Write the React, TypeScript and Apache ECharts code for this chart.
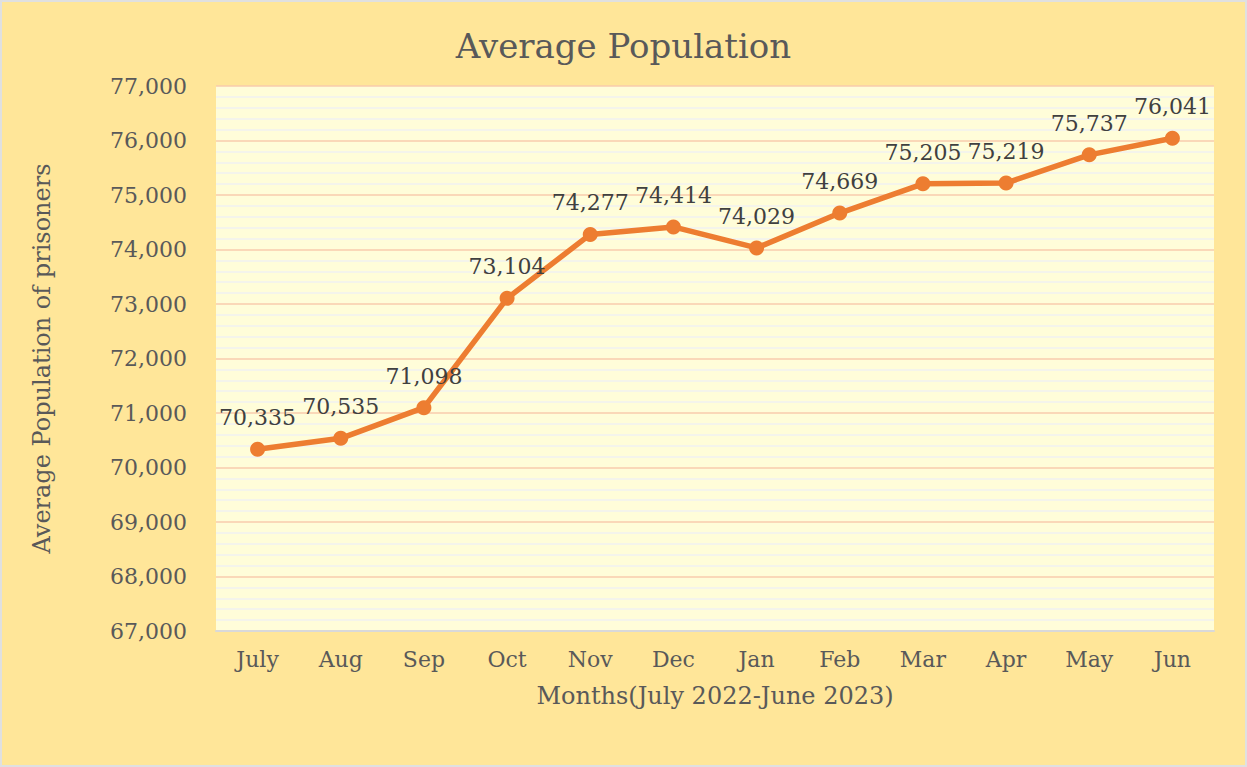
import React, { useEffect, useRef } from "react";
import * as echarts from "echarts";

const months = ["July", "Aug", "Sep", "Oct", "Nov", "Dec", "Jan", "Feb", "Mar", "Apr", "May", "Jun"];
const population = [70335, 70535, 71098, 73104, 74277, 74414, 74029, 74669, 75205, 75219, 75737, 76041];
const yMin = 67000;
const yMax = 77000;
const yStep = 1000;

const FONT = "'DejaVu Serif', serif";

export default function App() {
  const ref = useRef<HTMLDivElement>(null);
  useEffect(() => {
    document.body.style.margin = "0";
    const chart = echarts.init(ref.current!, null, { renderer: "svg" });
    chart.setOption({
      animation: false,
      backgroundColor: "#ffe699",
      title: {
        text: "Average Population",
        left: "center",
        top: 22,
        textStyle: { fontFamily: FONT, fontSize: 34, fontWeight: "normal", color: "#595959" },
      },
      grid: { left: 214, right: 31, top: 84, bottom: 134, show: true, backgroundColor: "#fffdd9", borderWidth: 0 },
      xAxis: {
        type: "category",
        data: months,
        boundaryGap: true,
        name: "Months(July 2022-June 2023)",
        nameLocation: "middle",
        nameGap: 53,
        nameTextStyle: { fontFamily: FONT, fontSize: 24, color: "#595959" },
        axisLine: { show: true, lineStyle: { color: "#d9d9d9", width: 2 } },
        axisTick: { show: false },
        axisLabel: { fontFamily: FONT, fontSize: 22, color: "#595959", margin: 17 },
      },
      yAxis: {
        type: "value",
        min: yMin,
        max: yMax,
        interval: yStep,
        name: "Average Population of prisoners",
        nameLocation: "middle",
        nameGap: 162,
        nameTextStyle: { fontFamily: FONT, fontSize: 24, color: "#595959" },
        axisLine: { show: false },
        axisTick: { show: false },
        axisLabel: {
          fontFamily: FONT,
          fontSize: 22,
          color: "#595959",
          margin: 29,
          formatter: (v: number) => v.toLocaleString("en-US"),
        },
        splitLine: { show: true, lineStyle: { color: "#f8cbad", width: 1.5 } },
        minorTick: { show: false, splitNumber: 5 },
        minorSplitLine: { show: true, lineStyle: { color: "#f0f0f0", width: 1.5 } },
      },
      series: [
        {
          type: "line",
          data: population,
          symbol: "circle",
          symbolSize: 15,
          lineStyle: { color: "#ed7d31", width: 5.5 },
          itemStyle: { color: "#ed7d31" },
          label: {
            show: true,
            position: "top",
            distance: 13,
            fontFamily: FONT,
            fontSize: 22,
            color: "#404040",
            formatter: (p: any) => Number(p.value).toLocaleString("en-US"),
          },
        },
      ],
    });
    return () => chart.dispose();
  }, []);
  return (
    <div
      ref={ref}
      style={{ width: 1247, height: 767, boxSizing: "border-box", border: "2px solid #e0e0e0" }}
    />
  );
}
